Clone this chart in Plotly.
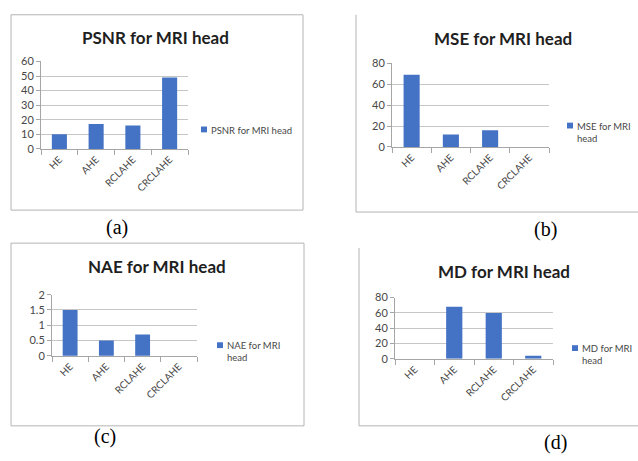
import plotly.graph_objects as go

W, H = 638, 461

methods = ["HE", "AHE", "RCLAHE", "CRCLAHE"]
psnr = [10, 17, 16, 49]
mse = [69, 12, 16, 0]
nae = [1.5, 0.5, 0.7, 0]
md = [0, 68, 60, 4]

titles = ["PSNR for MRI head", "MSE for MRI head", "NAE for MRI head", "MD for MRI head"]
legend_texts = ["PSNR for MRI head", "MSE for MRI<br>head", "NAE for MRI<br>head", "MD for MRI<br>head"]
panel_labels = ["(a)", "(b)", "(c)", "(d)"]
y_ranges = [(0, 60, 10), (0, 80, 20), (0, 2, 0.5), (0, 80, 20)]
series = [psnr, mse, nae, md]

BAR = "#4472C4"
GRID = "#c6c6c6"
TXT = "#474747"
FONT = "Lato, Open Sans, sans-serif"

# pixel layout of each panel: plot box (x0, x1, ytop, ybottom), title centre,
# legend marker / text anchor, panel label position
panels = [
    dict(box=(41, 188, 56, 146), title=(155, 31), leg=(204, 126), lab=(117, 227)),
    dict(box=(392, 549, 58, 144), title=(503, 32), leg=(570, 122), lab=(545, 229)),
    dict(box=(52, 197, 296, 359), title=(157, 267), leg=(220, 348), lab=(105, 442)),
    dict(box=(395, 553, 299, 362), title=(504, 272), leg=(575, 351), lab=(555, 448)),
]


def px(x):
    return x / W


def py(y):
    return 1 - y / H


fig = go.Figure()
layout = dict(
    width=W, height=H,
    margin=dict(l=0, r=0, t=0, b=0),
    paper_bgcolor="white", plot_bgcolor="white",
    showlegend=False, bargap=0.59,
    font=dict(family=FONT, color=TXT),
)
annotations = []
shapes = []

for i, p in enumerate(panels):
    n = "" if i == 0 else str(i + 1)
    x0, x1, yt, yb = p["box"]
    lo, hi, step = y_ranges[i]
    fig.add_trace(go.Bar(x=methods, y=series[i], marker=dict(color=BAR, line=dict(width=0)),
                         xaxis="x" + n, yaxis="y" + n))
    layout["xaxis" + n] = dict(
        domain=[px(x0), px(x1)], anchor="y" + n,
        showline=True, linecolor="#a6a6a6", linewidth=1,
        ticks="outside", tickson="boundaries", ticklen=5, tickcolor="#a6a6a6",
        tickangle=-45, tickfont=dict(size=10, color=TXT, family=FONT),
        showgrid=False, fixedrange=True,
    )
    layout["yaxis" + n] = dict(
        domain=[py(yb), py(yt)], anchor="x" + n,
        range=[lo, hi], dtick=step, tick0=0,
        showline=True, linecolor="#a6a6a6", linewidth=1,
        ticks="outside", ticklen=4, tickcolor="#a6a6a6",
        showgrid=True, gridcolor=GRID, gridwidth=1,
        zeroline=False,
        tickfont=dict(size=11, color=TXT, family=FONT),
        fixedrange=True,
    )
    tx, ty = p["title"]
    annotations.append(dict(x=px(tx), y=py(ty), xref="paper", yref="paper",
                            text="<b>" + titles[i] + "</b>", showarrow=False,
                            font=dict(size=17, color="#1f1f1f", family=FONT),
                            xanchor="center", yanchor="middle"))
    lx, ly = p["leg"]
    shapes.append(dict(type="rect", xref="paper", yref="paper",
                       x0=px(lx - 3), x1=px(lx + 3), y0=py(ly + 3), y1=py(ly - 3),
                       fillcolor=BAR, line=dict(width=0)))
    annotations.append(dict(x=px(lx + 5), y=py(ly - 7), xref="paper", yref="paper",
                            text=legend_texts[i], showarrow=False, align="left",
                            font=dict(size=9.5, color=TXT, family=FONT),
                            xanchor="left", yanchor="top"))
    lbx, lby = p["lab"]
    annotations.append(dict(x=px(lbx), y=py(lby), xref="paper", yref="paper",
                            text=panel_labels[i], showarrow=False,
                            font=dict(size=20, color="black", family="Liberation Serif, Times New Roman, serif"),
                            xanchor="center", yanchor="middle"))

# chart-area frames
BORDER = "#b4b4b4"
shapes.append(dict(type="rect", xref="paper", yref="paper",
                   x0=px(11), x1=px(303), y0=py(209), y1=py(8),
                   line=dict(color=BORDER, width=1)))
shapes.append(dict(type="rect", xref="paper", yref="paper",
                   x0=px(11), x1=px(304), y0=py(431), y1=py(243),
                   line=dict(color=BORDER, width=1)))
for (lx, ytop, ybot) in [(356, 8, 211), (359, 248, 431)]:
    shapes.append(dict(type="line", xref="paper", yref="paper",
                       x0=px(lx), x1=px(lx), y0=py(ybot), y1=py(ytop),
                       line=dict(color=BORDER, width=1)))
    shapes.append(dict(type="line", xref="paper", yref="paper",
                       x0=px(lx), x1=1, y0=py(ybot), y1=py(ybot),
                       line=dict(color=BORDER, width=1)))

layout["annotations"] = annotations
layout["shapes"] = shapes
fig.update_layout(**layout)
fig.write_html("out.html")
